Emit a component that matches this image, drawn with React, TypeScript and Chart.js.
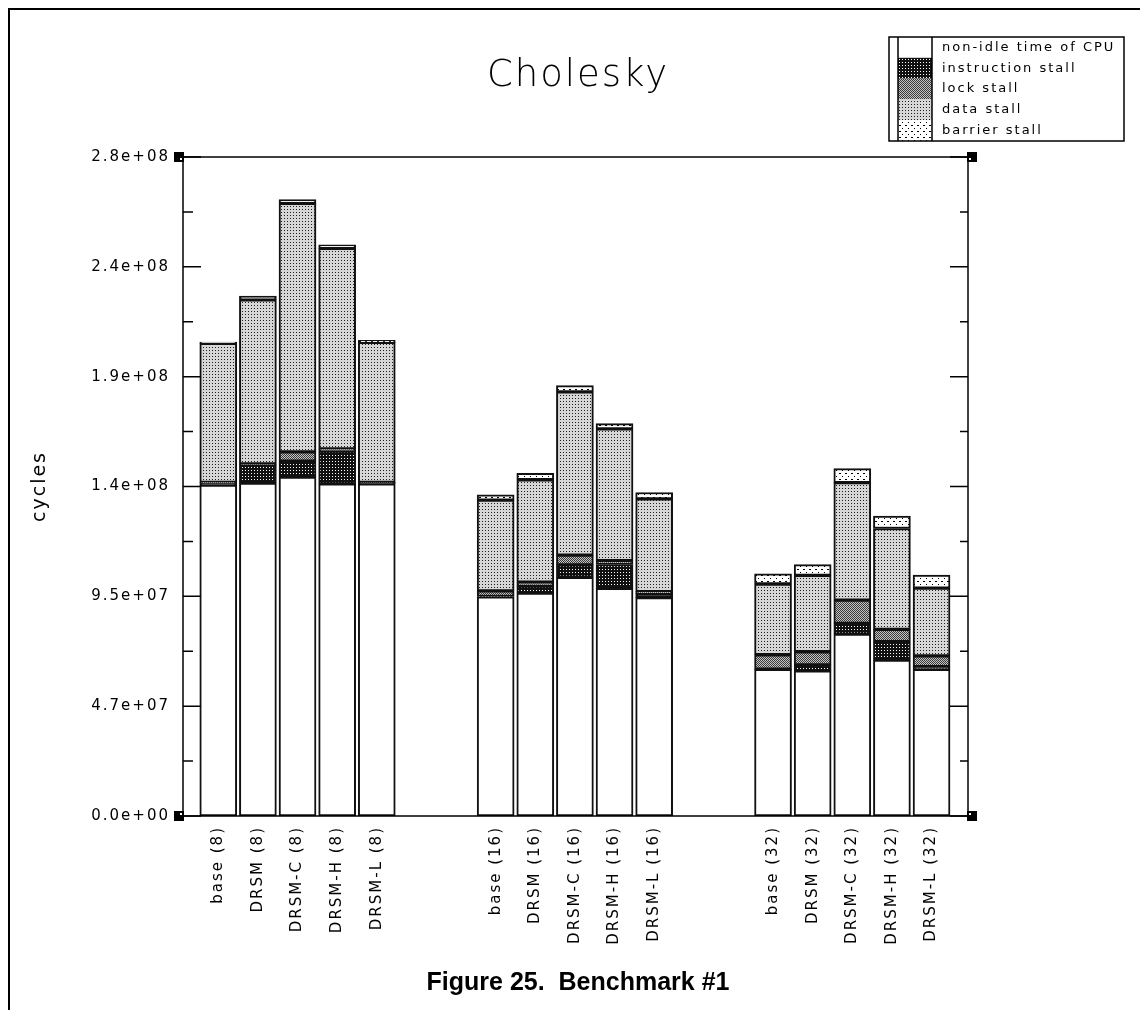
import { useEffect, useRef } from "react";
import { Chart, registerables } from "chart.js";

Chart.register(...registerables);

// Category slots along the x axis (blank entries are the gaps between groups)
const categories = [
  "base (8)", "DRSM (8)", "DRSM-C (8)", "DRSM-H (8)", "DRSM-L (8)", "", "",
  "base (16)", "DRSM (16)", "DRSM-C (16)", "DRSM-H (16)", "DRSM-L (16)", "", "",
  "base (32)", "DRSM (32)", "DRSM-C (32)", "DRSM-H (32)", "DRSM-L (32)",
];

const seriesNames = [
  "non-idle time of CPU",
  "instruction stall",
  "lock stall",
  "data stall",
  "barrier stall",
];

// values (cycles), one per non-blank category, in order
const nonIdle = [142.6e6, 143.5e6, 146.1e6, 143.1e6, 143.1e6, 94.4e6, 96.1e6, 102.9e6, 98.1e6, 94.1e6, 63.2e6, 62.6e6, 78.4e6, 67.2e6, 63.2e6];
const instructionStall = [0.9e6, 7.8e6, 6.8e6, 14.2e6, 0.6e6, 0.2e6, 3.0e6, 5.3e6, 10.3e6, 1.7e6, 0.1e6, 2.5e6, 4.6e6, 7.9e6, 1.2e6];
const lockStall = [0.3e6, 0.4e6, 4.0e6, 0.9e6, 0.1e6, 2.4e6, 1.7e6, 4.2e6, 1.6e6, 0.9e6, 6.2e6, 5.7e6, 10.0e6, 5.3e6, 4.6e6];
const dataStall = [59.9e6, 70.7e6, 107.1e6, 86.4e6, 60.3e6, 39.1e6, 44.1e6, 70.4e6, 56.8e6, 40.0e6, 30.5e6, 32.9e6, 50.7e6, 43.5e6, 29.2e6];
const barrierStall = [0.5e6, 1.7e6, 1.7e6, 1.5e6, 0.9e6, 2.3e6, 2.8e6, 2.7e6, 2.3e6, 2.7e6, 4.4e6, 4.6e6, 6.0e6, 5.3e6, 5.6e6];

const yTickLabels = ["0.0e+00", "4.7e+07", "9.5e+07", "1.4e+08", "1.9e+08", "2.4e+08", "2.8e+08"];
const yMax = 2.84e8;

const chartTitle = "Cholesky";
const yAxisTitle = "cycles";
const caption = "Figure 25.  Benchmark #1";

const barSlots = categories
  .map((c, i) => (c === "" ? -1 : i))
  .filter((i) => i >= 0);

function makePattern(
  ctx: CanvasRenderingContext2D,
  w: number,
  h: number,
  bg: string,
  dots: [number, number, string][]
) {
  const c = document.createElement("canvas");
  c.width = w;
  c.height = h;
  const g = c.getContext("2d")!;
  g.fillStyle = bg;
  g.fillRect(0, 0, w, h);
  for (const [x, y, col] of dots) {
    g.fillStyle = col;
    g.fillRect(x, y, 1, 1);
  }
  return ctx.createPattern(c, "repeat")!;
}

const spacingPlugin = {
  id: "spacing",
  beforeDraw(chart: any) {
    (chart.ctx as any).letterSpacing = "2px";
  },
};

const framePlugin = {
  id: "frame",
  afterDatasetsDraw(chart: any) {
    const { ctx, chartArea: a, scales } = chart;
    const y = scales.y;
    ctx.save();
    ctx.strokeStyle = "#000";
    ctx.lineWidth = 1.5;
    ctx.strokeRect(a.left, a.top, a.right - a.left, a.bottom - a.top);
    const n = yTickLabels.length - 1;
    ctx.beginPath();
    for (let k = 0; k <= n; k++) {
      const py = y.getPixelForValue((yMax * k) / n);
      ctx.moveTo(a.left, py);
      ctx.lineTo(a.left + 18, py);
      ctx.moveTo(a.right - 18, py);
      ctx.lineTo(a.right, py);
      if (k < n) {
        const pm = y.getPixelForValue((yMax * (k + 0.5)) / n);
        ctx.moveTo(a.left, pm);
        ctx.lineTo(a.left + 10, pm);
        ctx.moveTo(a.right - 8, pm);
        ctx.lineTo(a.right, pm);
      }
    }
    ctx.stroke();
    ctx.fillStyle = "#000";
    for (const cy of [a.top, a.bottom]) {
      ctx.fillRect(a.left - 9, cy - 5, 10, 10);
      ctx.fillRect(a.right - 1, cy - 5, 10, 10);
    }
    ctx.fillStyle = "#fff";
    for (const cy of [a.top, a.bottom]) {
      ctx.fillRect(a.left - 3, cy + (cy === a.top ? 1 : -3), 2, 2);
      ctx.fillRect(a.right + 1, cy + (cy === a.top ? 1 : -3), 2, 2);
    }
    ctx.restore();
  },
};

const legendPlugin = {
  id: "boxLegend",
  afterDraw(chart: any) {
    const { ctx } = chart;
    const L = 879, T = 27, R = 1114, B = 131;
    const s0 = 888, s1 = 922, tx = 932;
    const items = chart.data.datasets;
    const rh = (B - T) / items.length;
    ctx.save();
    items.forEach((ds: any, i: number) => {
      ctx.fillStyle = ds.backgroundColor;
      ctx.fillRect(s0, T + i * rh, s1 - s0, rh);
      ctx.fillStyle = "#000";
      ctx.font = '13px "DejaVu Sans"';
      ctx.textBaseline = "middle";
      ctx.textAlign = "left";
      ctx.fillText(ds.label, tx, T + (i + 0.5) * rh);
    });
    ctx.strokeStyle = "#000";
    ctx.lineWidth = 1.5;
    ctx.strokeRect(L, T, R - L, B - T);
    ctx.beginPath();
    ctx.moveTo(s0, T);
    ctx.lineTo(s0, B);
    ctx.moveTo(s1, T);
    ctx.lineTo(s1, B);
    ctx.stroke();
    ctx.restore();
  },
};

export default function App() {
  const ref = useRef<HTMLCanvasElement>(null);

  useEffect(() => {
    const canvas = ref.current!;
    const ctx = canvas.getContext("2d")!;
    const fills: any[] = [
      "#ffffff",
      makePattern(ctx, 3, 3, "#111111", [[1, 1, "#ffffff"]]),
      makePattern(ctx, 2, 2, "#c4c4c4", [[0, 0, "#3a3a3a"], [1, 1, "#3a3a3a"]]),
      makePattern(ctx, 3, 3, "#d6d6d6", [[1, 1, "#1e1e1e"]]),
      makePattern(ctx, 6, 6, "#ffffff", [[1, 1, "#000000"], [2, 1, "#000000"], [4, 4, "#000000"]]),
    ];
    const series = [nonIdle, instructionStall, lockStall, dataStall, barrierStall];

    const chart = new Chart(canvas, {
      type: "bar",
      data: {
        datasets: series.map((vals, s) => ({
          label: seriesNames[s],
          data: barSlots.map((slot, i) => ({ x: slot, y: vals[i] })),
          backgroundColor: fills[s],
          borderColor: "#111",
          borderWidth: 2,
          borderSkipped: false,
          barThickness: 37,
        })),
      },
      options: {
        responsive: false,
        animation: false,
        devicePixelRatio: 1,
        layout: { padding: { bottom: 54 } },
        plugins: {
          legend: { display: false },
          tooltip: { enabled: false },
          title: {
            display: true,
            text: chartTitle,
            color: "#000",
            font: { family: "DejaVu Sans", size: 37, weight: "200" as any, lineHeight: 1.2 },
            padding: { top: 44, bottom: 58.6 },
          },
        },
        scales: {
          x: {
            type: "linear",
            offset: false,
            stacked: true,
            min: -0.89,
            max: 18.92,
            grid: { display: false, drawTicks: false },
            border: { display: false },
            afterBuildTicks: (s: any) => {
              s.ticks = barSlots.map((v) => ({ value: v }));
            },
            afterFit: (s: any) => {
              s.height = 140;
            },
            ticks: {
              autoSkip: false,
              minRotation: 90,
              maxRotation: 90,
              padding: 10,
              color: "#000",
              font: { family: "DejaVu Sans", size: 15 },
              callback: (v: any) => categories[v as number],
            },
          },
          y: {
            stacked: true,
            min: 0,
            max: yMax,
            position: "left",
            grid: { display: false, drawTicks: false },
            border: { display: false },
            afterBuildTicks: (s: any) => {
              const n = yTickLabels.length - 1;
              s.ticks = yTickLabels.map((_, k) => ({ value: (yMax * k) / n }));
            },
            afterFit: (s: any) => {
              s.width = 173;
            },
            ticks: {
              padding: 13,
              color: "#000",
              font: { family: "DejaVu Sans", size: 15 },
              callback: (_v: any, i: number) => yTickLabels[i],
            },
            title: {
              display: true,
              text: yAxisTitle,
              color: "#000",
              font: { family: "DejaVu Sans", size: 19, weight: "normal" },
              padding: { top: 19, bottom: 0 },
            },
          },
          y2: {
            position: "right",
            display: true,
            grid: { display: false, drawTicks: false },
            border: { display: false },
            ticks: { display: false },
            afterFit: (s: any) => {
              s.width = 178;
            },
          },
        },
      } as any,
      plugins: [spacingPlugin, framePlugin, legendPlugin],
    });
    return () => chart.destroy();
  }, []);

  return (
    <div
      style={{
        width: 1138,
        height: 1002,
        boxSizing: "border-box",
        borderTop: "2px solid #000",
        borderLeft: "2px solid #000",
        position: "relative",
      }}
    >
      <canvas
        ref={ref}
        width={1136}
        height={1000}
        style={{ display: "block", width: 1136, height: 1000 }}
      />
      <div
        style={{
          position: "absolute",
          left: 0,
          width: 1136,
          top: 956,
          height: 30,
          lineHeight: "30px",
          textAlign: "center",
          fontFamily: '"Liberation Sans", Arial, sans-serif',
          fontWeight: "bold",
          fontSize: 25,
          whiteSpace: "pre",
          color: "#000",
        }}
      >
        {caption}
      </div>
    </div>
  );
}
